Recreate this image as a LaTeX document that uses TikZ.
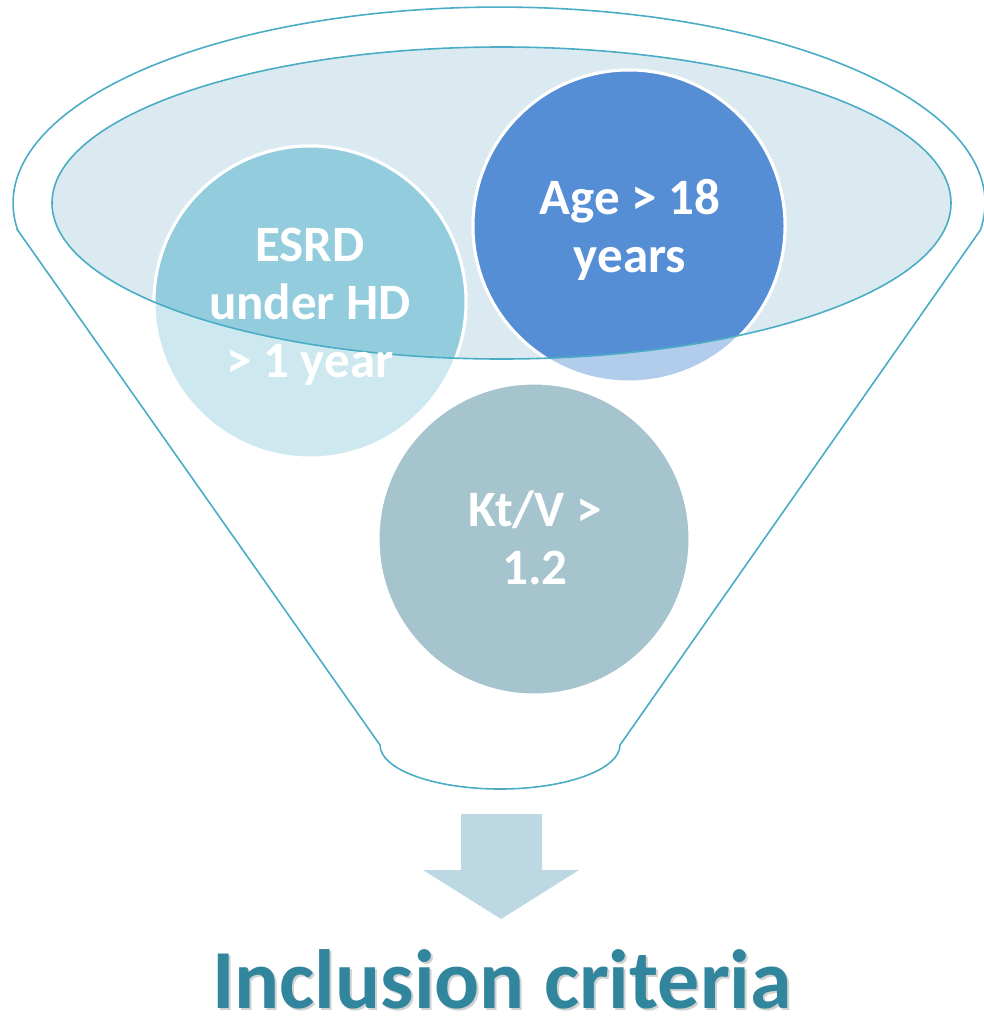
\documentclass[tikz,border=0pt]{standalone}
\usepackage{fontspec}
\setmainfont{Carlito}
\definecolor{funnelteal}{HTML}{4BACC6}
\definecolor{rimfill}{HTML}{DBEAF0}
\definecolor{esrdblue}{HTML}{93CDDD}
\definecolor{ageblue}{HTML}{558ED5}
\definecolor{ktvgrey}{HTML}{A5C4CD}
\definecolor{arrowblue}{HTML}{BCD8E2}
\definecolor{titleteal}{HTML}{31859C}
\begin{document}
\begin{tikzpicture}[x=1pt,y=-1pt,
  funnelline/.style={draw=funnelteal, line width=1.6pt},
  bubble/.style={circle, minimum size=312pt, inner sep=0pt, draw=white, line width=3pt},
  bubbletext/.style={text=white, align=center, inner sep=0pt,
    font=\fontsize{51}{58}\selectfont\bfseries},
  titletext/.style={inner sep=0pt, font=\fontsize{84}{90}\selectfont\bfseries},
]
\useasboundingbox (0,0) rectangle (983,1017);

% funnel body: wide rim, straight sides, rounded spout
\draw[funnelline] (17.6,230) -- (380,745)
  arc[start angle=180, end angle=360, x radius=120pt, y radius=44pt]
  -- (980.4,230)
  arc[start angle=-7.9, end angle=187.9, x radius=486pt, y radius=196pt]
  -- cycle;

% opening of the funnel
\fill[rimfill] (501.5,203) ellipse[x radius=449.5pt, y radius=156pt];

% criteria bubbles
\node[bubble, fill=ktvgrey] (ktv) at (534,539) {};
\node[bubble, fill=esrdblue, fill opacity=0.45] (esrd) at (310,302) {};
\node[bubble, fill=ageblue, fill opacity=0.45] (age) at (629,226) {};

% the parts of the bubbles inside the opening are shown at full strength
\begin{scope}
  \clip (501.5,203) ellipse[x radius=449.5pt, y radius=156pt];
  \path[fill=esrdblue, draw=white, line width=3pt] (esrd.center) circle[radius=156pt];
  \path[fill=ageblue, draw=white, line width=3pt] (age.center) circle[radius=156pt];
\end{scope}

% rim outline drawn over the bubbles
\draw[funnelline] (501.5,203) ellipse[x radius=449.5pt, y radius=156pt];

% bubble labels (base = baseline of the last line)
\node[bubbletext, anchor=base] (esrdtext) at (310,377) {ESRD\\under HD\\> 1 year};
\node[bubbletext, anchor=base] (agetext) at (630,272) {Age > 18\\years};
\node[bubbletext, anchor=base] (ktvtext) at (535,584) {Kt/V >\\1.2};

% down arrow
\fill[arrowblue] (461,814) -- (542,814) -- (542,870) -- (579,870)
  -- (501,919) -- (423,870) -- (461,870) -- cycle;

% caption with soft shadow
\node[titletext, anchor=base, text=black, text opacity=0.18] (titleshadow) at (504,1010) {Inclusion criteria};
\node[titletext, anchor=base, text=titleteal] (title) at (502,1008) {Inclusion criteria};
\end{tikzpicture}
\end{document}
